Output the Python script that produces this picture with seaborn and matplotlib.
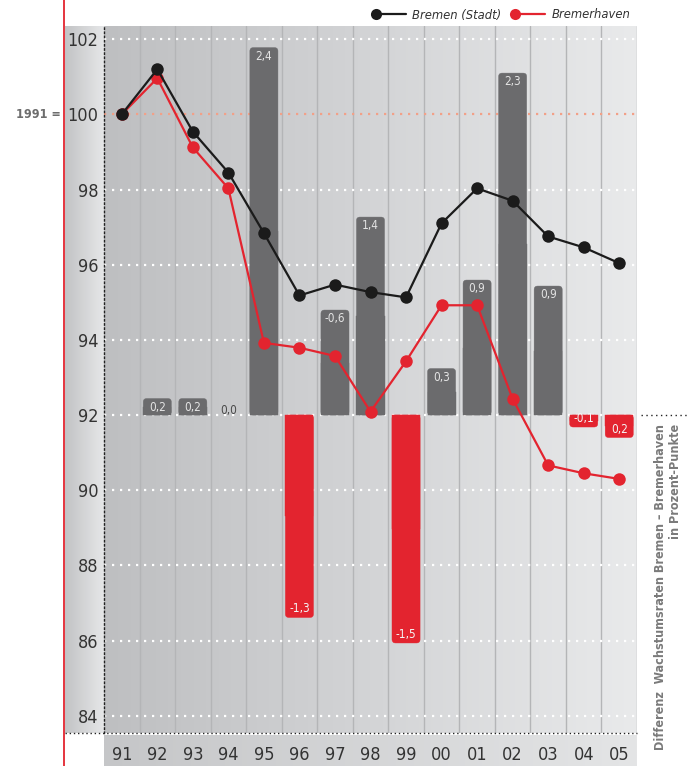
import numpy as np
import pandas as pd
import matplotlib
matplotlib.use("Agg")
import matplotlib.pyplot as plt
import seaborn as sns
from matplotlib.lines import Line2D
from matplotlib.patches import FancyBboxPatch, Rectangle
from matplotlib.legend_handler import HandlerBase
from matplotlib.colors import LinearSegmentedColormap
import matplotlib.transforms as mtransforms

# ---------------- data ----------------
years = ["91", "92", "93", "94", "95", "96", "97", "98", "99", "00", "01", "02", "03", "04", "05"]
bremen = [100.0, 101.2, 99.54, 98.45, 96.84, 95.18, 95.47, 95.27, 95.13, 97.10, 98.03, 97.70, 96.75, 96.46, 96.04]
bremerhaven = [100.0, 100.96, 99.12, 98.03, 93.92, 93.79, 93.57, 92.09, 93.43, 94.92, 94.92, 92.43, 90.66, 90.45, 90.30]
diff_heights = [0.0, 0.11, 0.11, 0.0, 2.45, -1.35, 0.70, 1.32, -1.52, 0.31, 0.90, 2.28, 0.86, -0.08, -0.15]
diff_labels = ["", "0,2", "0,2", "0,0", "2,4", "-1,3", "-0,6", "1,4", "-1,5", "0,3", "0,9", "2,3", "0,9", "-0,1", "0,2"]
yticks = [84, 86, 88, 90, 92, 94, 96, 98, 100, 102]
series_names = ["Bremen (Stadt)", "Bremerhaven"]
side_label = "Differenz  Wachstumsraten Bremen – Bremerhaven\nin Prozent-Punkte"

# ---------------- style ----------------
GRAY_BAR = "#6b6b6d"
RED = "#e3242f"
BLACK = "#1b1b1b"
TXT = "#333333"

sns.set_theme(style="white")
plt.rcParams["font.family"] = ["DejaVu Sans"]
plt.rcParams["font.stretch"] = "condensed"

W, H = 692, 766
fig = plt.figure(figsize=(W / 100, H / 100), dpi=100)

x0, x1 = 104, 637
ytop, ybot = 26, 733
rect = [x0 / W, (H - ybot) / H, (x1 - x0) / W, (ybot - ytop) / H]
ylo, yhi = 83.54, 102.35
base = 92.0
bar_scale = 3.99
b_lo, b_hi = (ylo - base) / bar_scale, (yhi - base) / bar_scale

ax_bg = fig.add_axes(rect, zorder=0)
ax_bar = fig.add_axes(rect, zorder=1, sharex=ax_bg)
ax = fig.add_axes(rect, zorder=2, sharex=ax_bg)

cmap_bg = LinearSegmentedColormap.from_list("bg", ["#bebfc1", "#d3d4d6", "#e9eaeb"])
grad = np.linspace(0, 1, 256).reshape(1, -1)
ax_bg.imshow(grad, cmap=cmap_bg, extent=(-0.5, 14.5, ylo, yhi), aspect="auto", zorder=0)
ax_bg.set_xlim(-0.5, 14.5)
ax_bg.set_ylim(ylo, yhi)
for k in range(15):
    ax_bg.axvline(k + 0.5, color="#b4b5b7", lw=1.0, zorder=1)
for t in yticks:
    if t == 100:
        ax_bg.axhline(t, color="#f2a088", lw=1.6, ls=(0, (1, 2.6)), zorder=2)
    else:
        ax_bg.axhline(t, color="white", lw=1.6, ls=(0, (1, 2.6)), zorder=2)
ax_bg.axis("off")

# ---------------- bars (difference of growth rates) ----------------
sign = ["pos" if v >= 0 else "neg" for v in diff_heights]
bar_df = pd.DataFrame({"year": years, "diff": diff_heights, "sign": sign})
sns.barplot(data=bar_df, x="year", y="diff", hue="sign", order=years,
            palette={"pos": GRAY_BAR, "neg": RED}, dodge=False, width=0.79,
            saturation=1, legend=False, ax=ax_bar)
ax_bar.set_ylim(b_lo, b_hi)
ax_bar.set_xlim(-0.5, 14.5)

px_x = (x1 - x0) / 15.0
px_y = (ybot - ytop) / (b_hi - b_lo)
asp = px_x / px_y
r = 3.5 / px_x
for p in list(ax_bar.patches):
    xx, yy = p.get_x(), p.get_y()
    w, h = p.get_width(), p.get_height()
    fc = p.get_facecolor()
    p.set_visible(False)
    if abs(h) < 1e-9 or np.isnan(h):
        continue
    y_lo = min(yy, yy + h)
    hh = abs(h)
    ax_bar.add_patch(FancyBboxPatch((xx, y_lo), w, hh,
                                    boxstyle=f"round,pad=0,rounding_size={r}",
                                    mutation_aspect=asp, fc=fc, ec=fc, lw=0.3))
    half = hh / 2
    ax_bar.add_patch(Rectangle((xx, 0 if h > 0 else -half), w, half, fc=fc, ec=fc, lw=0.3))

off = 8.5 / px_y
for i, (v, lab) in enumerate(zip(diff_heights, diff_labels)):
    if not lab:
        continue
    if v > 0:
        ax_bar.text(i, v - off, lab, ha="center", va="center", fontsize=8.5, color="#e4e4e4")
    elif v < 0:
        ax_bar.text(i, v + off, lab, ha="center", va="center", fontsize=8.5, color="#f4f4f4")
    else:
        ax_bar.text(i, 5 / px_y, lab, ha="center", va="center", fontsize=8.5, color="#4a4a4a")
ax_bar.axis("off")

# ---------------- lines ----------------
line_df = pd.DataFrame({
    "pos": list(range(len(years))) * 2,
    "value": bremerhaven + bremen,
    "series": [series_names[1]] * len(years) + [series_names[0]] * len(years),
})
sns.lineplot(data=line_df, x="pos", y="value", hue="series",
             hue_order=[series_names[1], series_names[0]],
             palette={series_names[0]: BLACK, series_names[1]: RED},
             marker="o", markersize=9, markeredgewidth=0, linewidth=1.6,
             legend=False, ax=ax)
ax.set_xlim(-0.5, 14.5)
ax.set_ylim(ylo, yhi)
ax.patch.set_visible(False)
for s in ["top", "right"]:
    ax.spines[s].set_visible(False)
ax.spines["left"].set_linestyle((0, (1, 2)))
ax.spines["left"].set_color("#222222")
ax.spines["left"].set_linewidth(1.0)
ax.spines["bottom"].set_visible(False)
ax.set_xlabel("")
ax.set_ylabel("")
ax.set_yticks(yticks)
ax.set_yticklabels([str(t) for t in yticks], fontsize=13, color=TXT)
ax.set_xticks(range(len(years)))
ax.set_xticklabels(years, fontsize=13, color=TXT)
ax.set_xticks(np.arange(-0.5, 15, 1.0), minor=True)
ax.tick_params(axis="y", which="both", length=0, pad=4)
ax.tick_params(axis="x", which="major", length=0, pad=9)
ax.tick_params(axis="x", which="minor", length=8, width=1.3, color=RED, direction="out")
ax.grid(False)

# y tick label panel
ax_pan = fig.add_axes([65 / W, (H - ybot) / H, (x0 - 65) / W, (ybot - ytop) / H], zorder=-1)
cmap_pan = LinearSegmentedColormap.from_list("pan", ["#c2c3c5", "#e6e7e8"])
ax_pan.imshow(grad, cmap=cmap_pan, extent=(0, 1, 0, 1), aspect="auto")
ax_pan.axis("off")

# x label band
ax_band = fig.add_axes([x0 / W, 0, (x1 - x0) / W, (H - ybot - 2) / H], zorder=-1)
cmap_band = LinearSegmentedColormap.from_list("band", ["#c5c6c8", "#e4e5e6"])
ax_band.imshow(grad, cmap=cmap_band, extent=(0, 1, 0, 1), aspect="auto")
ax_band.axis("off")

# dotted lines: bottom edge and baseline extension
fig.add_artist(Line2D([65 / W, x1 / W], [(H - ybot) / H] * 2, color="#222222",
                      lw=1.0, ls=(0, (1, 2))))
blend = mtransforms.blended_transform_factory(fig.transFigure, ax.transData)
fig.add_artist(Line2D([(x1 + 4) / W, 688 / W], [base, base], transform=blend,
                      color="#222222", lw=1.0, ls=(0, (1, 2.5)), clip_on=False))
# red vertical rule
fig.add_artist(Line2D([64 / W, 64 / W], [0, 1], color=RED, lw=1.3))

# "1991 =" label
fig.text(61 / W, 100, "1991 =", transform=blend, ha="right", va="center",
         fontsize=9, fontweight="bold", color="#6d6d6d")

# side label
fig.text(668 / W, 1 - 424 / H, side_label, rotation=90, ha="center", va="top",
         multialignment="right", fontsize=9.0, fontweight="bold", color="#7a7a7a",
         linespacing=1.25)

# legend
class LeftMarker(HandlerBase):
    def create_artists(self, legend, orig, xd, yd, w, h, fs, trans):
        y = h / 2 - yd
        ln = Line2D([-xd, -xd + w], [y, y], color=orig.get_color(), lw=orig.get_linewidth(),
                    transform=trans)
        mk = Line2D([-xd + 1], [y], marker="o", ms=orig.get_markersize(), mew=0,
                    color=orig.get_color(), ls="", transform=trans)
        return [ln, mk]

handles = [Line2D([], [], color=BLACK, lw=1.6, marker="o", ms=8),
           Line2D([], [], color=RED, lw=1.6, marker="o", ms=8)]
fig.legend(handles, series_names, loc="center right", bbox_to_anchor=(642 / W, 1 - 15 / H),
           ncol=2, frameon=False, handlelength=2.4, handletextpad=0.5, columnspacing=1.0,
           prop={"style": "italic", "size": 9.3}, labelcolor=TXT,
           handler_map={Line2D: LeftMarker()})

fig.savefig("out.png", dpi=100)
